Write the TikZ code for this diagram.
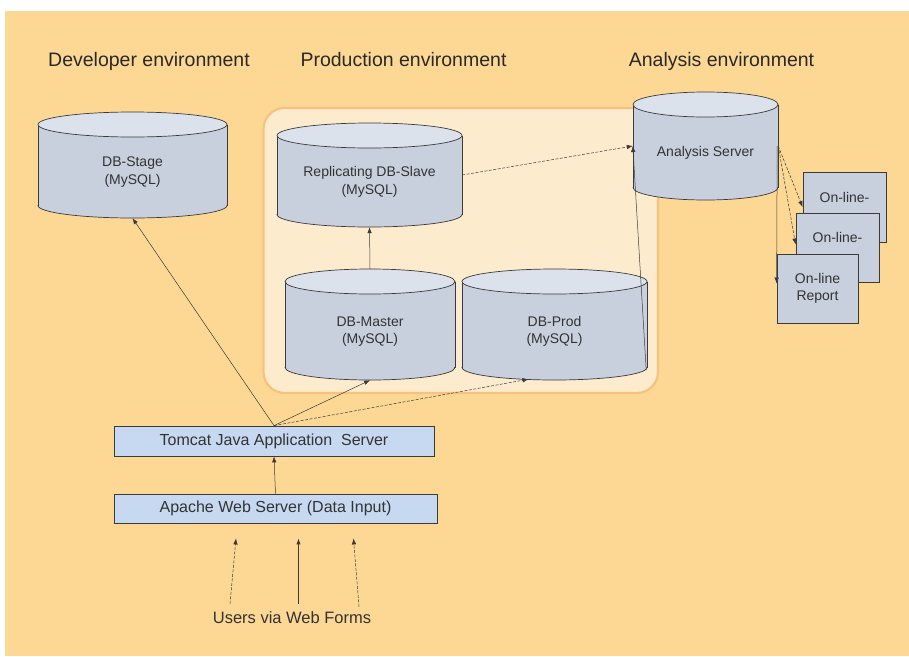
\documentclass[tikz,border=0pt]{standalone}
\usepackage{fontspec}
\setmainfont{Liberation Sans}
\usetikzlibrary{arrows.meta,calc}
\definecolor{bgorange}{HTML}{FDD894}
\definecolor{panelfill}{HTML}{FDEBCD}
\definecolor{panelborder}{HTML}{F8C27E}
\definecolor{cylbodyc}{HTML}{C8D0DE}
\definecolor{cyltopc}{HTML}{DCE2EB}
\definecolor{srvfill}{HTML}{C6D9F1}
\definecolor{linec}{HTML}{3A3A3A}
\definecolor{txtc}{HTML}{333333}
\tikzset{
 cylline/.style={draw=linec, line width=0.7pt},
 cyltext/.style={text=txtc, align=center, font=\fontsize{14}{17.5}\selectfont, inner sep=0pt},
 srvbox/.style={draw=linec, line width=0.8pt, fill=srvfill, text=txtc, font=\fontsize{16}{19}\selectfont, inner sep=0pt},
 rptbox/.style={draw=linec, line width=0.8pt, fill=cylbodyc, text=txtc, align=center, font=\fontsize{14}{17}\selectfont, inner sep=0pt},
 heading/.style={text=txtc!80!black, font=\fontsize{19.5}{23}\selectfont, anchor=base, inner sep=0pt},
 conn/.style={draw=linec, line width=0.5pt, -{Latex[length=6pt,width=4.5pt]}},
 dconn/.style={conn, dash pattern=on 3pt off 1.5pt},
}
\def\cylry{12.5}
% #1 name, #2 left, #3 top, #4 right, #5 bottom, #6 text
\newcommand{\dbcyl}[6]{%
  \pgfmathsetmacro\cylcx{(#2+#4)/2}%
  \pgfmathsetmacro\cylrx{(#4-#2)/2}%
  \pgfmathsetmacro\cylcy{(#3+#5)/2}%
  \pgfmathsetmacro\cylhh{#5-#3}%
  \pgfmathsetmacro\cylww{#4-#2}%
  \fill[cylbodyc] (#2,#3+\cylry) rectangle (#4,#5-\cylry);
  \fill[cylbodyc] (\cylcx,#5-\cylry) ellipse[x radius=\cylrx, y radius=\cylry];
  \begin{scope}
    \clip (#2-2,#5-\cylry) rectangle (#4+2,#5+2);
    \draw[cylline] (\cylcx,#5-\cylry) ellipse[x radius=\cylrx, y radius=\cylry];
  \end{scope}
  \draw[cylline] (#2,#3+\cylry) -- (#2,#5-\cylry) (#4,#3+\cylry) -- (#4,#5-\cylry);
  \draw[cylline, fill=cyltopc] (\cylcx,#3+\cylry) ellipse[x radius=\cylrx, y radius=\cylry];
  \node[inner sep=0pt, minimum width=\cylww pt, minimum height=\cylhh pt] (#1) at (\cylcx,\cylcy) {};
  \node[cyltext] (#1-t) at (\cylcx,\cylcy+7) {#6};
}
\begin{document}
\begin{tikzpicture}[x=1pt,y=-1pt]
\useasboundingbox (0,0) rectangle (909,656);
\fill[white] (0,0) rectangle (909,656);
\fill[bgorange] (5,11) rectangle (909,656);

% headings
\node[heading] (h1) at (149,66) {Developer environment};
\node[heading] (h2) at (403.5,66) {Production environment};
\node[heading] (h3) at (721.5,66) {Analysis environment};

% production panel
\draw[draw=panelborder, line width=2.2pt, fill=panelfill, rounded corners=21pt] (263.5,108) rectangle (658,393);

% databases
\dbcyl{stage}{38}{112}{227}{218}{DB-Stage\\(MySQL)}
\dbcyl{slave}{277}{123}{462}{227}{Replicating DB-Slave\\(MySQL)}
\dbcyl{master}{285}{269}{455}{380}{DB-Master\\(MySQL)}
\dbcyl{prod}{462}{269}{647}{380}{DB-Prod\\(MySQL)}
\dbcyl{analysis}{633}{92}{778}{200}{Analysis Server}

% report boxes
\node[rptbox, minimum width=83pt, minimum height=70pt] (rep1) at (844.5,207) {On-line-\\\phantom{report}};
\node[rptbox, minimum width=83pt, minimum height=69pt] (rep2) at (837.5,247.5) {On-line-\\\phantom{report}};
\node[rptbox, minimum width=81pt, minimum height=69pt] (rep3) at (817.5,288.5) {On-line\\Report};

% servers
\node[srvbox, minimum width=320pt, minimum height=30pt] (tomcat) at (274,441) {Tomcat Java Application\ \ Server};
\node[srvbox, minimum width=323pt, minimum height=29pt] (apache) at (275.5,508.5) {Apache Web Server (Data Input)};

% users
\node[text=txtc, font=\fontsize{16.5}{20}\selectfont, inner sep=0pt] (users) at (292,618) {Users via Web Forms};

% connectors
\draw[dconn] ($(users.north)+(-62,-8)$) -- ($(apache.south)+(-39.5,15)$);
\draw[conn, line width=1pt] ($(users.north)+(6.5,-8)$) -- ($(apache.south)+(23,15)$);
\draw[dconn] ($(users.north)+(67,-5)$) -- ($(apache.south)+(78,15)$);

\draw[conn] (apache.north) -- (tomcat.south);
\draw[conn] (tomcat.north) -- (stage.south);
\draw[conn] (tomcat.north) -- (master.south);
\draw[dconn] (tomcat.north) -- ($(prod.south)+(-26,-1)$);
\draw[conn] (master.north) -- (slave.south);
\draw[dconn] (slave.east) -- (analysis.west);
\draw[conn] ($(prod.south east)+(-1,-10)$) -- (analysis.west);
\draw[dconn] (analysis.east) -- (rep1.west);
\draw[dconn] (analysis.east) -- ($(rep2.west)+(0,-3)$);
\draw[conn] ($(analysis.east)+(-1,0)$) -- ($(rep3.west)+(0,-5)$);
\end{tikzpicture}
\end{document}
